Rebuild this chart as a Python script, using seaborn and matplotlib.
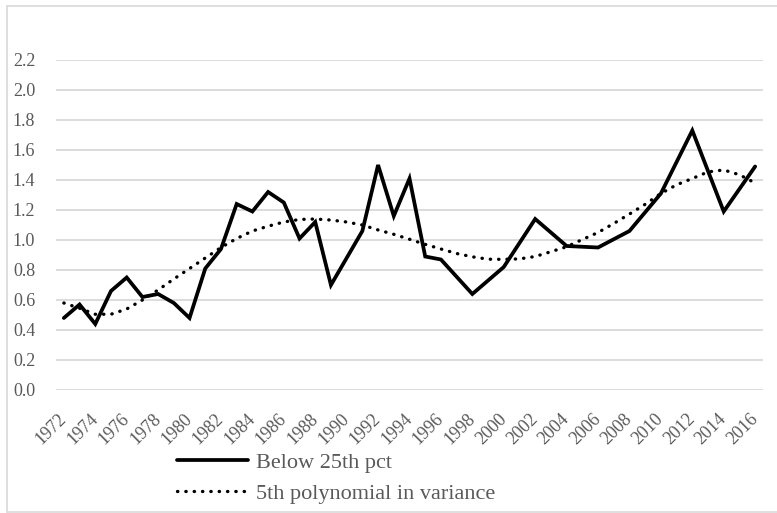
import matplotlib
matplotlib.use("Agg")
import matplotlib.pyplot as plt
import seaborn as sns
import pandas as pd
from matplotlib.lines import Line2D

# ---- data ----
obs_years = list(range(1972, 1997)) + list(range(1998, 2017, 2))
below_25th = [0.48, 0.57, 0.44, 0.66, 0.75, 0.62, 0.64, 0.58, 0.48, 0.81,
              0.94, 1.24, 1.19, 1.32, 1.25, 1.01, 1.12, 0.70, 0.88, 1.06,
              1.50, 1.16, 1.41, 0.89, 0.87,
              0.64, 0.82, 1.14, 0.96, 0.95, 1.06, 1.31, 1.73, 1.19, 1.49]

poly_years = list(range(1972, 2017))
poly_fit = [0.58, 0.545, 0.505, 0.505, 0.54, 0.60, 0.667, 0.74, 0.81, 0.88,
            0.95, 1.01, 1.06, 1.092, 1.12, 1.137, 1.14, 1.133, 1.12, 1.10,
            1.067, 1.038, 1.005, 0.971, 0.94, 0.91, 0.888, 0.872, 0.871, 0.874,
            0.89, 0.922, 0.955, 1.003, 1.05, 1.11, 1.173, 1.238, 1.31, 1.368,
            1.41, 1.454, 1.467, 1.435, 1.38]

tick_years = list(range(1972, 2017, 2))
y_ticks = [0.0, 0.2, 0.4, 0.6, 0.8, 1.0, 1.2, 1.4, 1.6, 1.8, 2.0, 2.2]

label_solid = "Below 25th pct"
label_dotted = "5th polynomial in variance"

# ---- style ----
sns.set_theme(style="white")
plt.rcParams["font.family"] = ["Liberation Serif", "DejaVu Serif"]

W, H = 777, 513
fig = plt.figure(figsize=(W / 100, H / 100), dpi=100)
ax = fig.add_axes([56 / W, 1 - 390 / H, (763 - 56) / W, (390 - 60) / H])

df_obs = pd.DataFrame({"year": obs_years, "value": below_25th})
df_poly = pd.DataFrame({"year": poly_years, "value": poly_fit})

grid_c = "#d9d9d9"
for yv in y_ticks:
    ax.axhline(yv, color=grid_c, lw=1.3, zorder=0)

dot_style = (0, (0.1, 2.4))
sns.lineplot(data=df_obs, x="year", y="value", ax=ax, color="black",
             lw=2.7, solid_joinstyle="miter", zorder=3)
sns.lineplot(data=df_poly, x="year", y="value", ax=ax, color="black",
             lw=2.4, linestyle=dot_style, dash_capstyle="round", zorder=4)

ax.set_xlim(1971.5, 2016.5)
ax.set_ylim(0, 2.2)
ax.set_yticks(y_ticks)
ax.set_yticklabels([f"{v:.1f}" for v in y_ticks])
ax.set_xticks(tick_years)
ax.set_xticklabels([str(y) for y in tick_years], rotation=45, ha="right",
                   va="center", rotation_mode="anchor")
ax.tick_params(axis="y", length=0, pad=15, labelsize=13, labelcolor="#595959")
ax.tick_params(axis="x", length=0, pad=19, labelsize=13, labelcolor="#595959")
ax.set_xlabel("")
ax.set_ylabel("")
for s in ax.spines.values():
    s.set_visible(False)

handles = [Line2D([], [], color="black", lw=2.7),
           Line2D([], [], color="black", lw=2.4, linestyle=dot_style,
                  dash_capstyle="round")]
leg = fig.legend(handles, [label_solid, label_dotted], loc="center left",
                 bbox_to_anchor=(177 / W, 1 - 478 / H), frameon=False,
                 fontsize=16, handlelength=3.2, handletextpad=0.35,
                 labelspacing=0.45, borderpad=0, borderaxespad=0)
for t in leg.get_texts():
    t.set_color("#595959")

# chart-area border
bc = "#d9d9d9"
fig.add_artist(Line2D([7 / W, 7 / W], [1 - 512 / H, 1 - 6 / H], color=bc, lw=1.2,
                      transform=fig.transFigure))
fig.add_artist(Line2D([7 / W, 1], [1 - 6 / H, 1 - 6 / H], color=bc, lw=1.2,
                      transform=fig.transFigure))
fig.add_artist(Line2D([7 / W, 1], [1 - 512 / H, 1 - 512 / H], color=bc, lw=1.2,
                      transform=fig.transFigure))

fig.savefig("out.png", dpi=100, facecolor="white")
